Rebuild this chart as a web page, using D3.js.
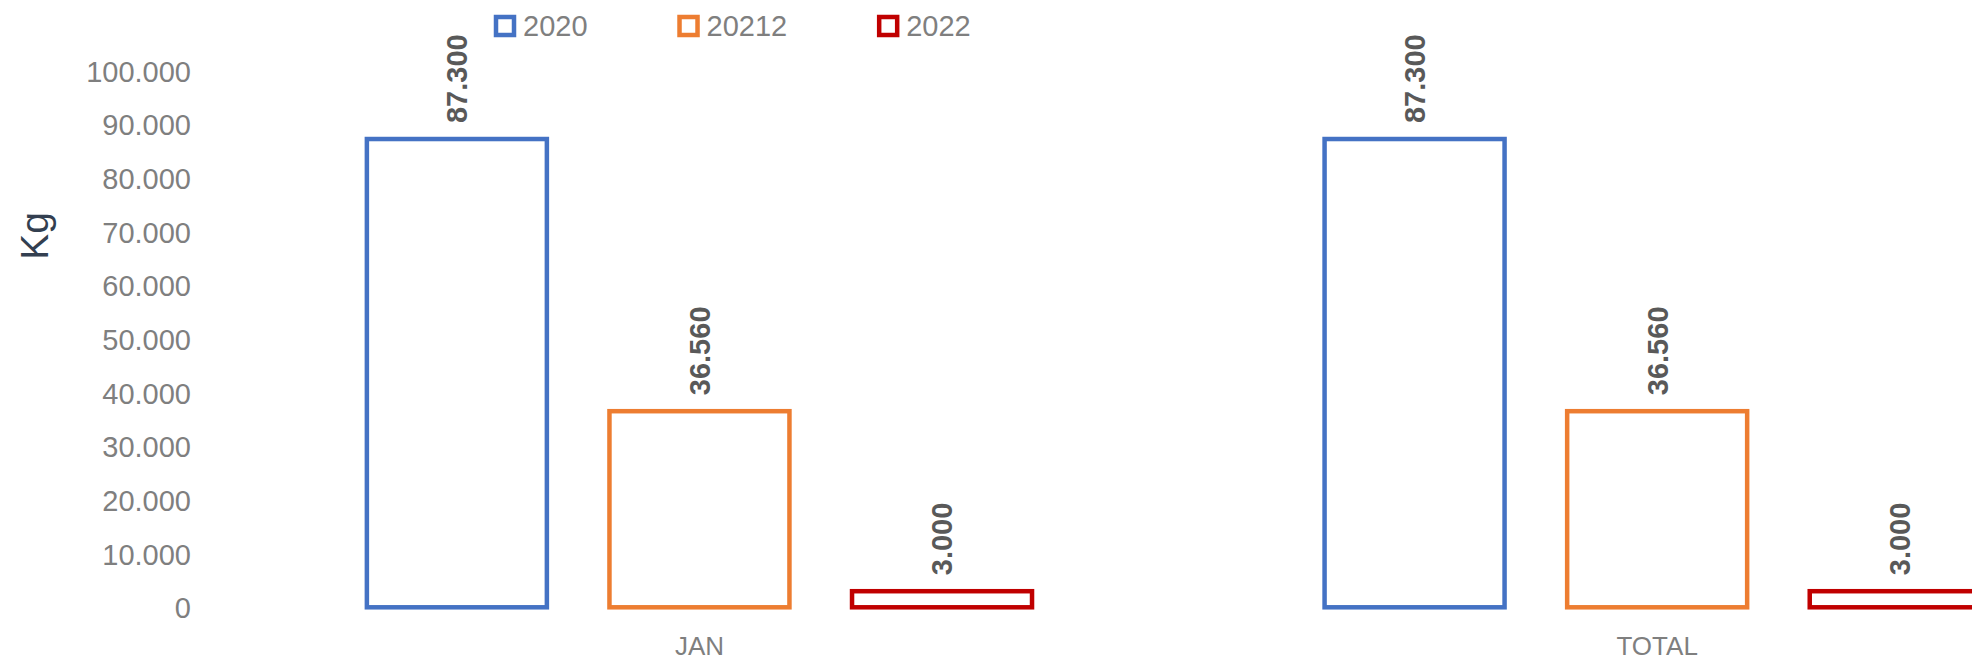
<!DOCTYPE html>
<html>
<head>
<meta charset="utf-8">
<script src="https://cdn.jsdelivr.net/npm/d3@7"></script>
<style>
   body { margin: 0; background: #fff; }
   svg { display: block; font-family: "Liberation Sans", Arial, sans-serif; }
</style>
</head>
<body>
<div id="mainChart"></div>
<script>
// Chart data
const categories = ["JAN", "TOTAL"]
const seriesNames = ["2020", "20212", "2022"]
const seriesColors = ["#4472C4", "#ED7D31", "#C00000"]
const values2020 = [87300, 87300]
const values20212 = [36560, 36560]
const values2022 = [3000, 3000]
const yTicks = [0, 10000, 20000, 30000, 40000, 50000, 60000, 70000, 80000, 90000, 100000]
const yLabel = "Kg"

const seriesValues = [values2020, values20212, values2022]

let width = 1972, height = 661

// Number format with dot as thousands separator
let locale = d3.formatLocale({ decimal: ",", thousands: ".", grouping: [3], currency: ["", ""] })
let fmt = locale.format(",")

let svg = d3.select("#mainChart").append("svg")
   .attr("width", width)
   .attr("height", height)

// Scales (plot area runs past the right edge, like the cropped original)
let x0 = d3.scaleBand()
   .domain(categories)
   .range([220.6, 2136])

let x1 = d3.scaleBand()
   .domain(seriesNames)
   .range([0, x0.bandwidth()])
   .paddingInner(0.258)
   .paddingOuter(0.603)

let y = d3.scaleLinear()
   .domain([0, 100000])
   .range([607.3, 70.9])

// Y axis labels
let yAxis = d3.axisLeft(y)
   .tickValues(yTicks)
   .tickFormat(fmt)
   .tickSize(0)
   .tickPadding(0)

let verticalAxis = svg.append("g")
   .attr("transform", "translate(191,0)")
   .call(yAxis)

verticalAxis.select(".domain").remove()
verticalAxis.selectAll("text")
   .attr("font-size", 29)
   .attr("font-family", "'Liberation Sans', Arial, sans-serif")
   .attr("fill", "#7f7f7f")
   .attr("dy", "0.36em")

// X axis labels
let xAxis = d3.axisBottom(x0).tickSize(0).tickPadding(0)

let horizontalAxis = svg.append("g")
   .attr("transform", "translate(0,655)")
   .call(xAxis)

horizontalAxis.select(".domain").remove()
horizontalAxis.selectAll("text")
   .attr("font-size", 26)
   .attr("font-family", "'Liberation Sans', Arial, sans-serif")
   .attr("fill", "#7f7f7f")
   .attr("dy", 0)

// Axis title
svg.append("text")
   .attr("transform", "translate(48,236) rotate(-90)")
   .attr("text-anchor", "middle")
   .attr("font-size", 39)
   .attr("fill", "#333f50")
   .text(yLabel)

// Bars and data labels
seriesNames.forEach(function (name, si) {
   let data = categories.map(function (c, i) { return { cat: c, value: seriesValues[si][i] } })

   svg.selectAll("rect.bar.s" + si).data(data)
      .join("rect")
      .attr("class", "bar s" + si)
      .attr("x", function (d) { return x0(d.cat) + x1(name) })
      .attr("y", function (d) { return y(d.value) })
      .attr("width", x1.bandwidth())
      .attr("height", function (d) { return y(0) - y(d.value) })
      .attr("fill", "#fff")
      .attr("stroke", seriesColors[si])
      .attr("stroke-width", 4.5)

   svg.selectAll("text.lbl.s" + si).data(data)
      .join("text")
      .attr("class", "lbl s" + si)
      .attr("transform", function (d) {
         let cx = x0(d.cat) + x1(name) + x1.bandwidth() / 2
         return "translate(" + cx + "," + (y(d.value) - 16) + ") rotate(-90)"
      })
      .attr("dy", "0.36em")
      .attr("font-size", 29)
      .attr("font-weight", "bold")
      .attr("fill", "#595959")
      .text(function (d) { return fmt(d.value) })
})

// Legend
let legend = svg.append("g").attr("transform", "translate(0,26)")
let lx = 496
seriesNames.forEach(function (name, si) {
   let item = legend.append("g").attr("transform", "translate(" + lx + ",0)")
   item.append("rect")
      .attr("x", 0)
      .attr("y", -9)
      .attr("width", 18)
      .attr("height", 18)
      .attr("fill", "#fff")
      .attr("stroke", seriesColors[si])
      .attr("stroke-width", 4.5)
   let t = item.append("text")
      .attr("x", 27)
      .attr("dy", "0.36em")
      .attr("font-size", 29)
      .attr("fill", "#7f7f7f")
      .text(name)
   lx += 27 + t.node().getComputedTextLength() + 92
})
</script>
</body>
</html>
